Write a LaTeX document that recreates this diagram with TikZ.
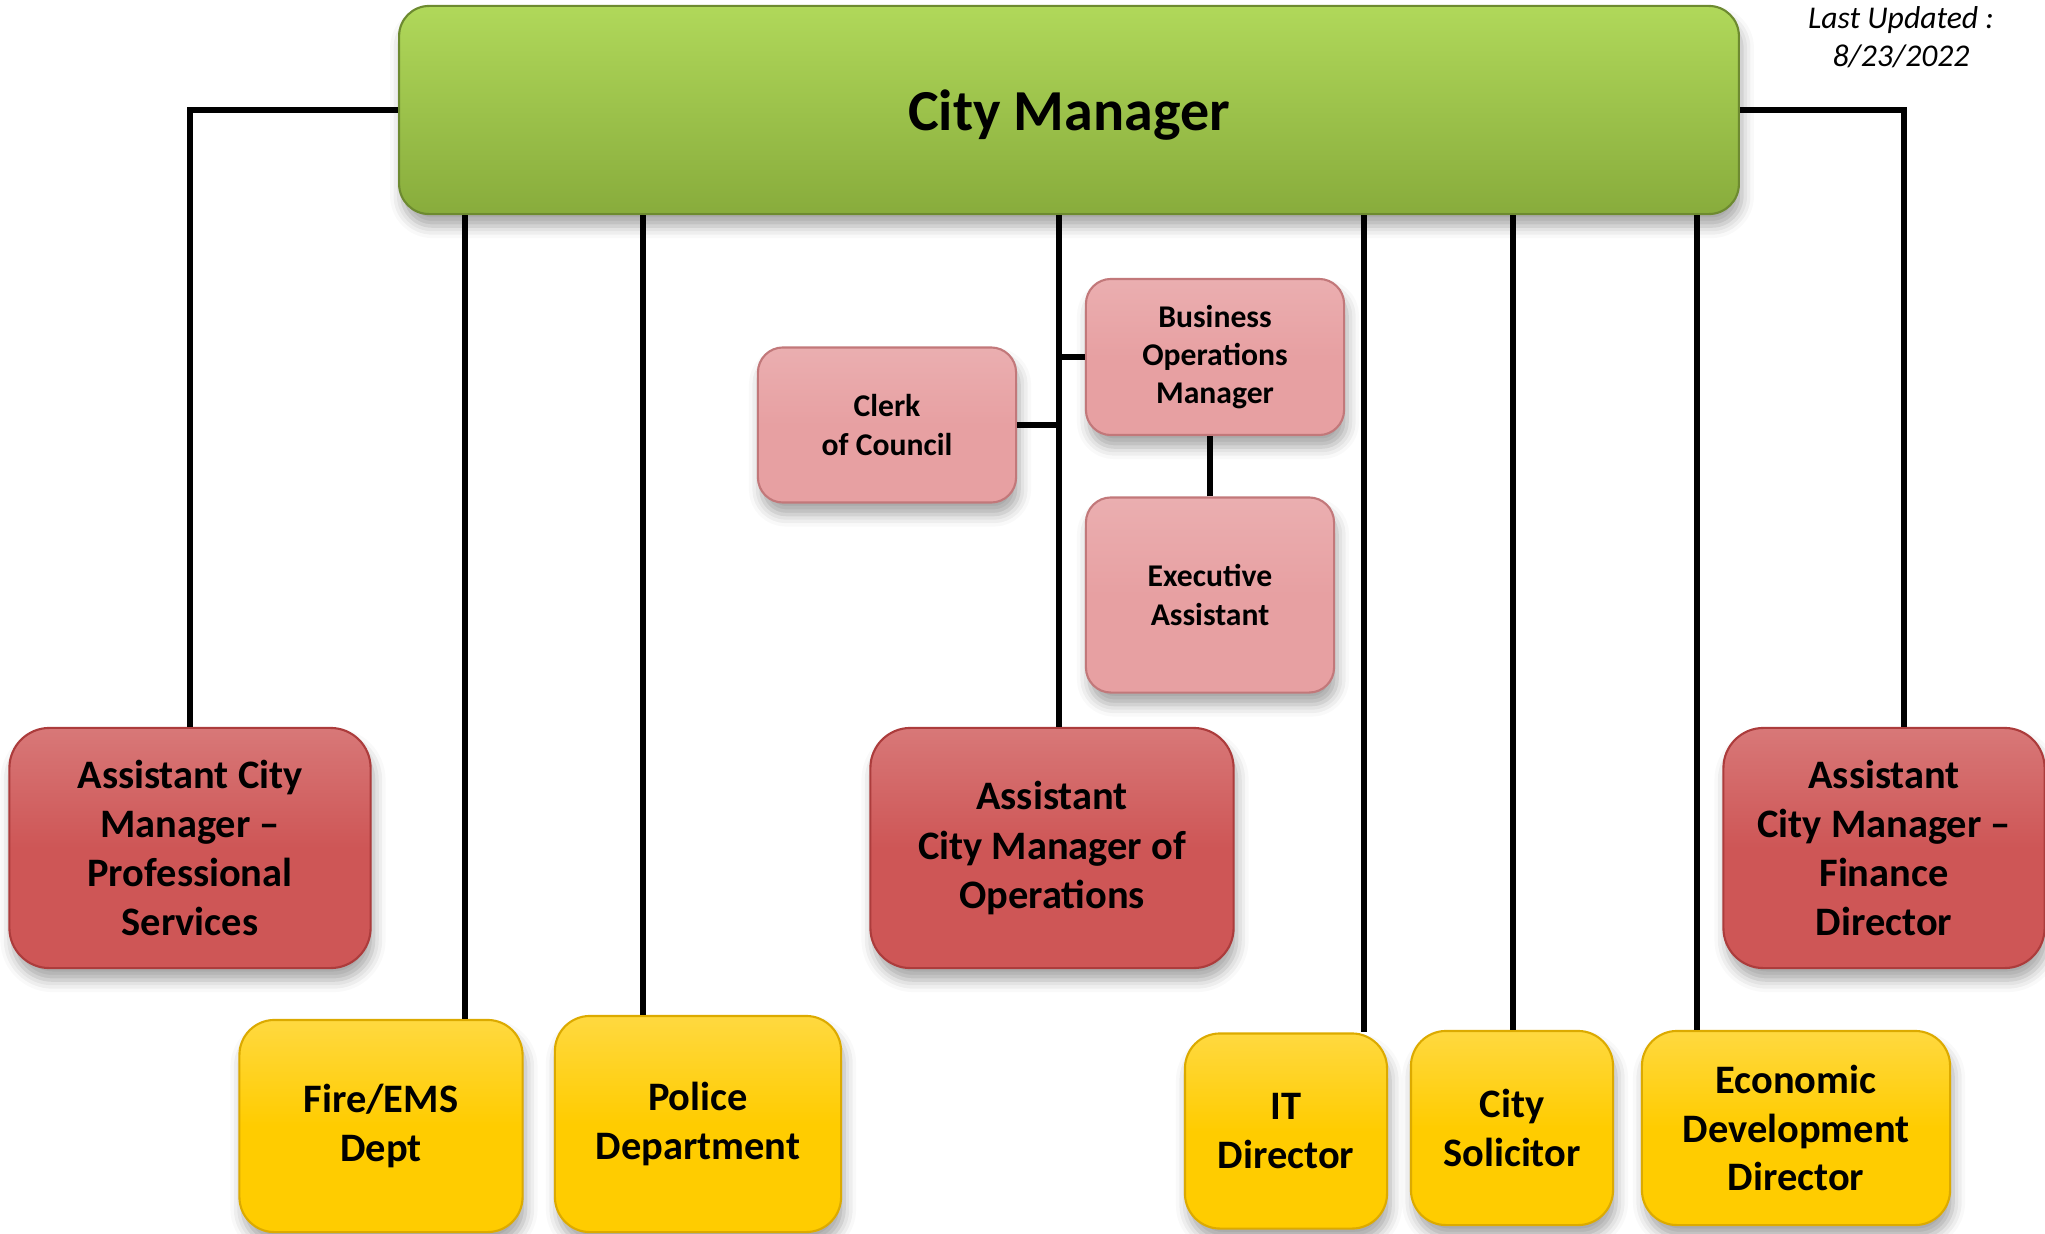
\documentclass[tikz,border=0pt]{standalone}
\usepackage{fontspec}
\setmainfont{Carlito}
\usetikzlibrary{calc,shadows.blur}
\definecolor{cmtop}{RGB}{176,216,90}
\definecolor{cmbot}{RGB}{136,172,60}
\definecolor{acmfill}{RGB}{206,86,86}
\definecolor{acmline}{RGB}{172,60,60}
\definecolor{subfill}{RGB}{231,160,162}
\definecolor{subline}{RGB}{194,120,122}
\definecolor{deptfill}{RGB}{255,204,0}
\definecolor{deptline}{RGB}{220,170,0}
\begin{document}
\begin{tikzpicture}[x=0.01cm, y=-0.01cm, line width=1.4pt,
    box/.style={align=center, inner sep=0pt, line width=0.6pt,
      blur shadow={shadow xshift=0.3mm, shadow yshift=-1.2mm, shadow blur radius=1.2mm, shadow opacity=35}},
    topbox/.style={box, rounded corners=0.3cm, draw=cmbot!80!black, top color=cmtop, bottom color=cmbot,
      font=\fontsize{16.5}{19}\selectfont\bfseries, text height=15pt, text depth=3.5pt},
    acmbox/.style={box, rounded corners=0.4cm, draw=acmline, top color=acmfill!80!white, bottom color=acmfill, middle color=acmfill,
      font=\fontsize{11.5}{14}\selectfont\bfseries, minimum height=2.4cm},
    subbox/.style={box, rounded corners=0.25cm, draw=subline, top color=subfill!85!white, bottom color=subfill, middle color=subfill,
      font=\fontsize{9}{10.9}\selectfont\bfseries},
    deptbox/.style={box, rounded corners=0.35cm, draw=deptline, top color=deptfill!75!white, bottom color=deptfill, middle color=deptfill,
      font=\fontsize{11.5}{13.8}\selectfont\bfseries},
    link/.style={draw=black, line width=1.7pt}]
  \useasboundingbox (0,0) rectangle (2045,1233);

  % 1. city manager and date note
  \node[topbox, minimum width=13.39cm, minimum height=2.08cm] (cm) at (1069,110) {City Manager};
  \node[align=center, font=\fontsize{9}{10.8}\selectfont\itshape] (upd) at (1901,37) {Last Updated :\\8/23/2022};

  % 2. assistant city managers
  \node[acmbox, minimum width=3.61cm] (acmps) at (190,848) {Assistant City\\Manager --\\Professional\\Services};
  \node[acmbox, minimum width=3.63cm] (acmops) at (1052,848) {Assistant\\City Manager of\\Operations};
  \node[acmbox, minimum width=3.21cm] (acmfin) at (1884,848) {Assistant\\City Manager --\\Finance\\Director};

  % 3. office staff
  \node[subbox, minimum width=2.58cm, minimum height=1.55cm] (clerk) at (887,425) {Clerk\\of Council};
  \node[subbox, minimum width=2.58cm, minimum height=1.56cm] (bom) at (1215,357) {Business\\Operations\\Manager};
  \node[subbox, minimum width=2.48cm, minimum height=1.95cm] (exec) at (1210,595) {Executive\\Assistant};

  % 4. departments
  \node[deptbox, minimum width=2.83cm, minimum height=2.12cm] (fire) at (381,1126) {Fire/EMS\\Dept};
  \node[deptbox, minimum width=2.86cm, minimum height=2.16cm] (police) at (698,1124) {Police\\Department};
  \node[deptbox, minimum width=2.02cm, minimum height=1.95cm] (it) at (1286,1131) {IT\\Director};
  \node[deptbox, minimum width=2.02cm, minimum height=1.94cm] (sol) at (1512,1128) {City\\Solicitor};
  \node[deptbox, minimum width=3.08cm, minimum height=1.94cm] (econ) at (1796,1128) {Economic\\Development\\Director};

  % 5. connectors (tap points on the bottom edge of the top box)
  \coordinate (tfire) at (cm.south -| 465,0);
  \coordinate (tpolice) at (cm.south -| 643,0);
  \coordinate (tops) at (cm.south -| 1059,0);
  \coordinate (tit) at (cm.south -| 1364,0);
  \coordinate (tsol) at (cm.south -| 1513,0);
  \coordinate (tecon) at (cm.south -| 1697,0);
  \coordinate (tfin) at ($(acmfin.north)+(20,0)$);

  \draw[link] (cm.west) -| (acmps.north);
  \draw[link] (cm.east) -| (tfin);
  \draw[link] (tfire) -- (tfire |- fire.north);
  \draw[link] (tpolice) -- (tpolice |- police.north);
  \draw[link] (tops) -- (tops |- acmops.north);
  \draw[link] (tit) -- (tit |- it.north);
  \draw[link] (tsol) -- (tsol |- sol.north);
  \draw[link] (tecon) -- (tecon |- econ.north);
  \draw[link] (bom.west) -- (bom.west -| tops);
  \draw[link] (clerk.east) -- (clerk.east -| tops);
  \draw[link] (exec.north) -- (exec.north |- bom.south);
\end{tikzpicture}
\end{document}
